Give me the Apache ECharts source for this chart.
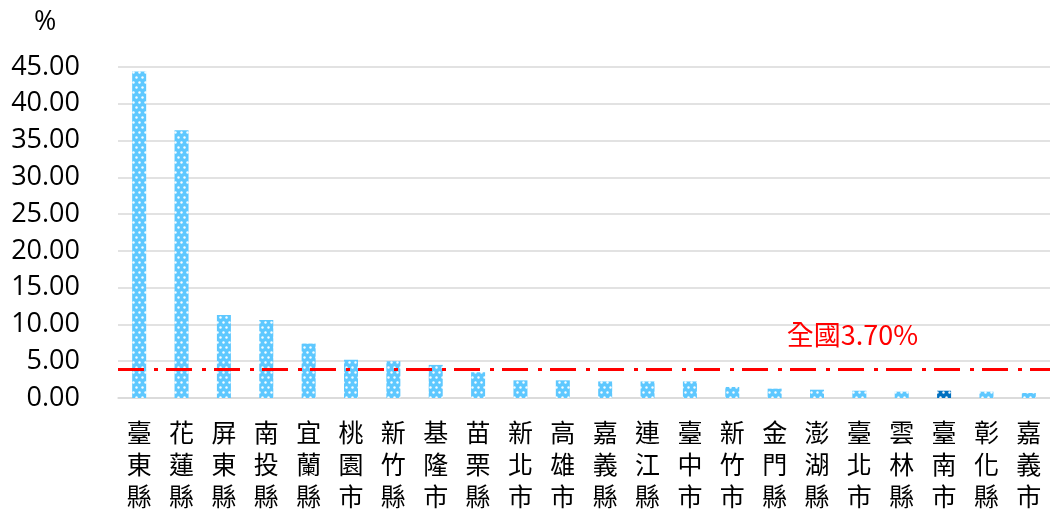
<!DOCTYPE html>
<html><head><meta charset="utf-8">
<script src="https://cdn.jsdelivr.net/npm/echarts@6/dist/echarts.min.js"></script>
<style>html,body{margin:0;padding:0;background:#fff}#c{width:1050px;height:512px}</style>
</head><body><div id="c"></div>
<script>
const categories = ['臺東縣','花蓮縣','屏東縣','南投縣','宜蘭縣','桃園市','新竹縣','基隆市','苗栗縣','新北市','高雄市','嘉義縣','連江縣','臺中市','新竹市','金門縣','澎湖縣','臺北市','雲林縣','臺南市','彰化縣','嘉義市'];
const values = [44.4, 36.4, 11.3, 10.6, 7.4, 5.2, 5.0, 4.5, 3.5, 2.4, 2.4, 2.25, 2.25, 2.25, 1.5, 1.27, 1.13, 0.99, 0.86, 0.99, 0.86, 0.68];
const highlight = '臺南市';
const nationalLine = 3.9;
const nationalLabel = '全國3.70%';
const yTicks = {min: 0, max: 45, interval: 5};

function dotPattern(bg) {
  const c = document.createElement('canvas');
  c.width = 6; c.height = 10;
  const g = c.getContext('2d');
  g.fillStyle = bg; g.fillRect(0, 0, 6, 10);
  g.fillStyle = 'rgba(255,255,255,0.95)';
  g.beginPath(); g.arc(1.5, 2.5, 1.2, 0, Math.PI * 2); g.fill();
  g.beginPath(); g.arc(4.5, 7.5, 1.2, 0, Math.PI * 2); g.fill();
  return c;
}
const lightPat = {image: dotPattern('#5EC8FF'), repeat: 'repeat'};
const darkPat = {image: dotPattern('#0070C0'), repeat: 'repeat'};

const chart = echarts.init(document.getElementById('c'));
chart.setOption({
  animation: false,
  title: {text: '%', left: 29, top: 4, textStyle: {fontFamily: 'Open Sans', fontSize: 27, fontWeight: 'normal', color: '#000'}},
  grid: {left: 118, right: 0, top: 67, bottom: 114, containLabel: false},
  xAxis: {
    type: 'category', data: categories,
    axisLine: {show: true, lineStyle: {color: '#d9d9d9', width: 1.5}},
    axisTick: {show: false},
    axisLabel: {
      interval: 0, margin: 18,
      formatter: v => v.split('').join('\n'),
      fontFamily: 'Noto Sans CJK TC', fontSize: 25, lineHeight: 32, color: '#000'
    }
  },
  yAxis: {
    type: 'value', min: yTicks.min, max: yTicks.max, interval: yTicks.interval,
    axisLine: {show: false}, axisTick: {show: false},
    splitLine: {lineStyle: {color: '#d9d9d9', width: 1.5}},
    axisLabel: {formatter: v => v.toFixed(2), margin: 38, fontFamily: 'Open Sans', fontSize: 27, color: '#000'}
  },
  series: [{
    type: 'bar', barWidth: 14,
    data: values.map((v, i) => ({value: v, itemStyle: {color: categories[i] === highlight ? darkPat : lightPat}})),
    markLine: {
      symbol: 'none', silent: true,
      lineStyle: {color: '#FF0000', width: 3, type: [26, 10, 4, 8]},
      label: {
        show: true, position: 'insideEndTop', formatter: nationalLabel,
        color: '#FF0000', fontSize: 27, fontFamily: 'Noto Sans CJK TC',
        padding: [0, 127, 16, 0]
      },
      data: [{yAxis: nationalLine}]
    }
  }]
});
</script></body></html>
